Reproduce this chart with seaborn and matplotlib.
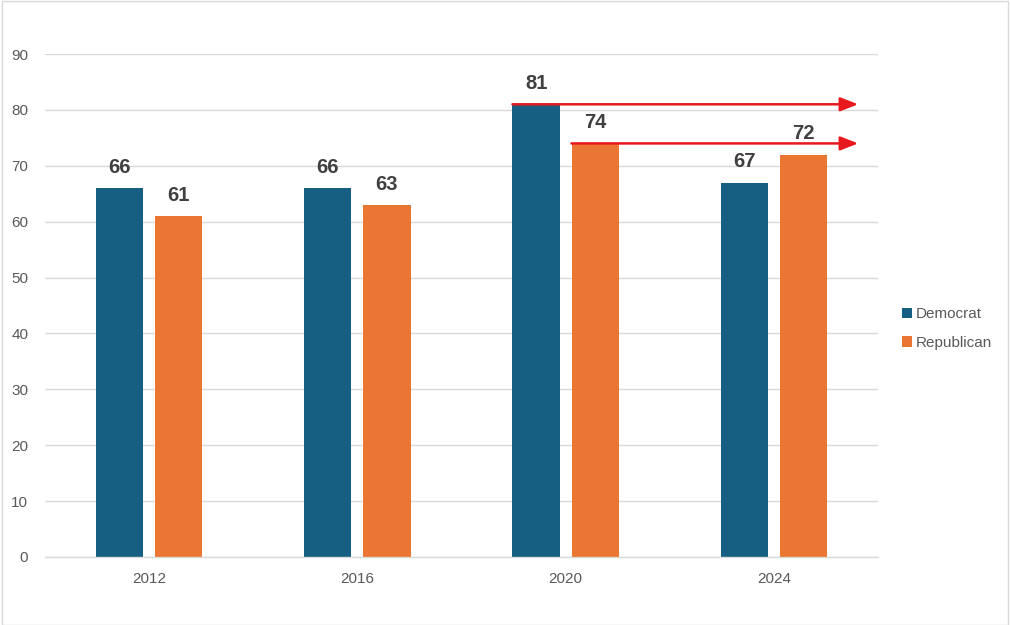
import matplotlib
matplotlib.use("Agg")
import matplotlib.pyplot as plt
import seaborn as sns
import pandas as pd
from matplotlib.patches import Rectangle

years = ["2012", "2016", "2020", "2024"]
democrat = [66, 66, 81, 67]
republican = [61, 63, 74, 72]
series_names = ["Democrat", "Republican"]
colors = ["#175E83", "#EB7533"]
yticks = [0, 10, 20, 30, 40, 50, 60, 70, 80, 90]

df = pd.DataFrame({
    "year": years * 2,
    "value": democrat + republican,
    "party": [series_names[0]] * len(years) + [series_names[1]] * len(years),
})

sns.set_theme(style="white")
plt.rcParams["font.family"] = ["Liberation Sans", "DejaVu Sans"]

fig = plt.figure(figsize=(10.1, 6.25), dpi=100)
ax = fig.add_axes([45/1010, 1-557/625, (878-45)/1010, (557-54)/625])

sns.barplot(data=df, x="year", y="value", hue="party", order=years,
            hue_order=series_names, palette=colors, width=0.567, gap=0.2,
            ax=ax, saturation=1, legend=True, linewidth=0, edgecolor="none")

ax.set_ylim(0, 90)
ax.set_xlim(-0.5, 3.5)
ax.set_yticks(yticks)
ax.set_xlabel("")
ax.set_ylabel("")
ax.grid(axis="y", color="#D9D9D9", linewidth=1)
ax.set_axisbelow(True)
for s in ["top", "right", "left"]:
    ax.spines[s].set_visible(False)
ax.spines["bottom"].set_color("#D9D9D9")
ax.spines["bottom"].set_linewidth(1)
ax.tick_params(axis="y", length=0, pad=12, labelsize=11, labelcolor="#595959")
ax.tick_params(axis="x", length=0, pad=11, labelsize=11, labelcolor="#595959")

for cont in ax.containers:
    ax.bar_label(cont, fmt="%d", padding=8, fontsize=14.5, fontweight="bold",
                 color="#404040")

# arrows from the 2020 bars
idx = years.index("2020")
x_end = 3.405
for cont in ax.containers:
    bar = cont.patches[idx]
    y = bar.get_height()
    ax.annotate("", xy=(x_end, y), xytext=(bar.get_x(), y),
                arrowprops=dict(arrowstyle="-|>,head_length=0.9,head_width=0.35",
                                color="#E8191E", lw=1.8, shrinkA=0, shrinkB=0),
                annotation_clip=False)

handles, labels = ax.get_legend_handles_labels()
ax.legend(handles, labels, loc="center left", bbox_to_anchor=(0.879, 0.474),
          bbox_transform=fig.transFigure, frameon=False, fontsize=11,
          labelcolor="#595959", handlelength=0.7, handleheight=0.7,
          handletextpad=0.25, labelspacing=0.95)

fig.patches.append(Rectangle((2/1010, 0), 1 - 4/1010, 1 - 1/625, transform=fig.transFigure,
                             fill=False, edgecolor="#D9D9D9", linewidth=1))

fig.savefig("out.png", dpi=100)
